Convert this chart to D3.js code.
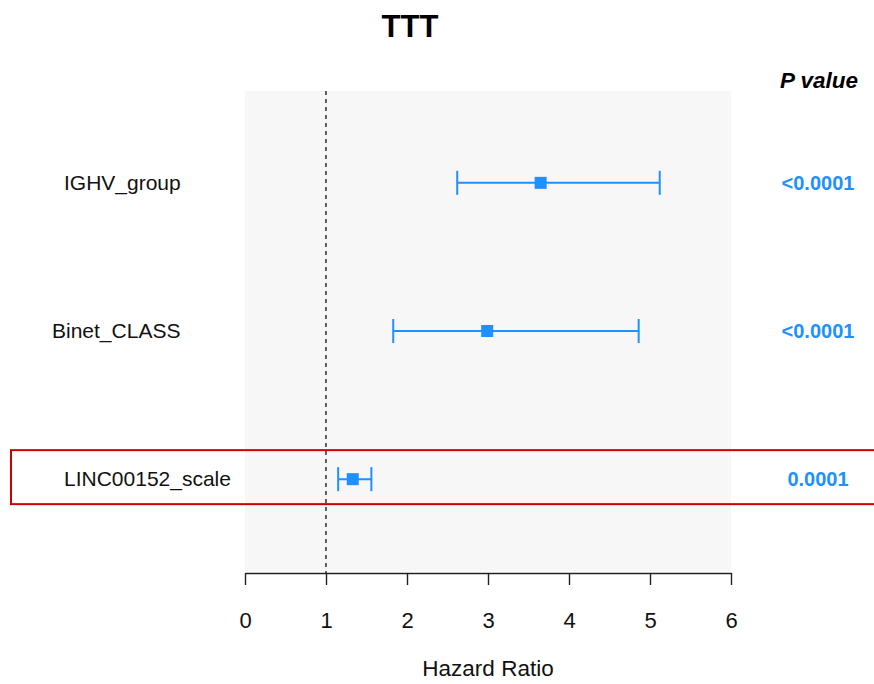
<!DOCTYPE html>
<html>
<head>
<meta charset="utf-8">
<script src="https://cdn.jsdelivr.net/npm/d3@7"></script>
<style>
  body { margin: 0; background: #fff; }
  svg text { font-family: "Liberation Sans", Arial, sans-serif; }
</style>
</head>
<body>
<div id="chart"></div>
<script>
// forest plot data
var variables = ["IGHV_group", "Binet_CLASS", "LINC00152_scale"];
var hazardRatio = [3.65, 2.99, 1.33];
var lowerCI = [2.62, 1.83, 1.15];
var upperCI = [5.12, 4.86, 1.56];
var pValues = ["<0.0001", "<0.0001", "0.0001"];
var xTicks = [0, 1, 2, 3, 4, 5, 6];
var highlighted = "LINC00152_scale";

var width = 874, height = 684;
var panel = {left: 245, right: 731, top: 91, bottom: 571};
var blue = "#1E90FF";

var svg = d3.select("#chart").append("svg")
    .attr("width", width)
    .attr("height", height);

var x = d3.scaleLinear()
    .domain([0, 6])
    .range([panel.left, panel.right]);

var y = d3.scalePoint()
    .domain(variables)
    .range([panel.top, panel.bottom])
    .padding(0.62);

//grey plot background
svg.append("rect")
    .attr("x", panel.left)
    .attr("y", panel.top)
    .attr("width", panel.right - panel.left)
    .attr("height", panel.bottom - panel.top)
    .attr("fill", "#f7f7f7");

//reference line at HR = 1
svg.append("line")
    .attr("x1", x(1)).attr("x2", x(1))
    .attr("y1", panel.top).attr("y2", panel.bottom + 2)
    .attr("stroke", "#111")
    .attr("stroke-width", 1.3)
    .attr("stroke-dasharray", "4,4");

//axis
var axis = svg.append("g")
    .attr("transform", "translate(0," + (panel.bottom + 2) + ")")
    .call(d3.axisBottom(x).tickValues(xTicks).tickFormat(d3.format("d"))
        .tickSizeInner(12).tickSizeOuter(0).tickPadding(27));
axis.select(".domain").attr("stroke", "#222").attr("stroke-width", 1.4);
axis.selectAll(".tick line").attr("stroke", "#222").attr("stroke-width", 1.4);
axis.selectAll(".tick text")
    .attr("fill", "#111")
    .style("font-size", "22px")
    .style("font-family", "Liberation Sans, Arial, sans-serif");

var rows = variables.map(function(v, i) {
    return {name: v, hr: hazardRatio[i], lo: lowerCI[i], hi: upperCI[i], p: pValues[i]};
});

//highlight box around the chosen variable
svg.selectAll("rect.highlight")
    .data(rows.filter(function(d) { return d.name == highlighted; }))
    .enter()
    .append("rect")
    .attr("class", "highlight")
    .attr("x", 11)
    .attr("y", function(d) { return y(d.name) - 29; })
    .attr("width", width + 10)
    .attr("height", 54)
    .attr("fill", "none")
    .attr("stroke", "#cc0000")
    .attr("stroke-width", 2);

var capH = 12, boxS = 12;
var g = svg.selectAll("g.row")
    .data(rows)
    .enter()
    .append("g")
    .attr("class", "row");

g.append("line")
    .attr("x1", function(d) { return x(d.lo); })
    .attr("x2", function(d) { return x(d.hi); })
    .attr("y1", function(d) { return y(d.name); })
    .attr("y2", function(d) { return y(d.name); })
    .attr("stroke", blue).attr("stroke-width", 2);

g.selectAll("line.cap")
    .data(function(d) { return [{v: d.lo, n: d.name}, {v: d.hi, n: d.name}]; })
    .enter()
    .append("line")
    .attr("class", "cap")
    .attr("x1", function(d) { return x(d.v); })
    .attr("x2", function(d) { return x(d.v); })
    .attr("y1", function(d) { return y(d.n) - capH; })
    .attr("y2", function(d) { return y(d.n) + capH; })
    .attr("stroke", blue).attr("stroke-width", 2);

g.append("rect")
    .attr("x", function(d) { return x(d.hr) - boxS / 2; })
    .attr("y", function(d) { return y(d.name) - boxS / 2; })
    .attr("width", boxS)
    .attr("height", boxS)
    .attr("fill", blue);

//variable names, left column
var labelStart = {"IGHV_group": 64, "Binet_CLASS": 52, "LINC00152_scale": 64};
g.append("text")
    .attr("x", function(d) { return labelStart[d.name]; })
    .attr("y", function(d) { return y(d.name); })
    .attr("dy", "0.35em")
    .attr("fill", "#111")
    .style("font-size", "21px")
    .text(function(d) { return d.name; });

//p values, right column
g.append("text")
    .attr("x", 818)
    .attr("y", function(d) { return y(d.name); })
    .attr("dy", "0.35em")
    .attr("text-anchor", "middle")
    .attr("fill", blue)
    .style("font-size", "20px")
    .style("font-weight", "bold")
    .text(function(d) { return d.p; });

svg.append("text")
    .attr("x", 858)
    .attr("y", 88)
    .attr("text-anchor", "end")
    .style("font-size", "22.5px")
    .style("font-weight", "bold")
    .style("font-style", "italic")
    .text("P value");

//title and axis label
svg.append("text")
    .attr("x", 410)
    .attr("y", 37)
    .attr("text-anchor", "middle")
    .style("font-size", "31px")
    .style("font-weight", "bold")
    .text("TTT");

svg.append("text")
    .attr("x", 488)
    .attr("y", 676)
    .attr("text-anchor", "middle")
    .attr("fill", "#111")
    .style("font-size", "22.5px")
    .text("Hazard Ratio");
</script>
</body>
</html>
